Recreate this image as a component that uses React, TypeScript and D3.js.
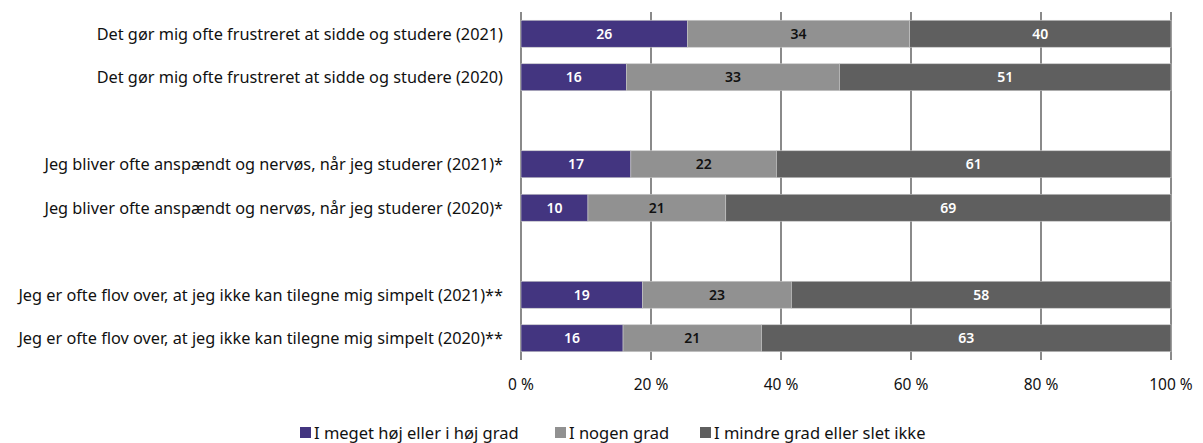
import React from "react";
import * as d3 from "d3";

const categories = [
  "Det gør mig ofte frustreret at sidde og studere (2021)",
  "Det gør mig ofte frustreret at sidde og studere (2020)",
  "Jeg bliver ofte anspændt og nervøs, når jeg studerer (2021)*",
  "Jeg bliver ofte anspændt og nervøs, når jeg studerer (2020)*",
  "Jeg er ofte flov over, at jeg ikke kan tilegne mig simpelt (2021)**",
  "Jeg er ofte flov over, at jeg ikke kan tilegne mig simpelt (2020)**",
];
// slot layout: bars with an empty slot between pairs
const slots = ["0", "1", "gapA", "2", "3", "gapB", "4", "5"];

const seriesNames = ["I meget høj eller i høj grad", "I nogen grad", "I mindre grad eller slet ikke"];
const highValues = [25.6, 16.2, 16.9, 10.3, 18.7, 15.7];
const someValues = [34.2, 32.8, 22.4, 21.2, 22.9, 21.3];
const lowValues = [40.2, 51.0, 60.7, 68.5, 58.4, 63.0];
const ticks = [0, 20, 40, 60, 80, 100];
const tickLabels = ["0 %", "20 %", "40 %", "60 %", "80 %", "100 %"];

const colors = ["#433580", "#919191", "#5f5f5f"];
const labelColors = ["#ffffff", "#111111", "#ffffff"];
const FONT = "'Noto Sans', 'Source Sans Pro', Lato, sans-serif";

export default function App() {
  const W = 1203;
  const H = 443;
  const x = d3.scaleLinear().domain([0, 100]).range([521, 1171]);
  const y = d3.scaleBand().domain(slots).range([12, 360]).paddingInner(0.38).paddingOuter(0.19);

  const data = categories.map((c, i) => ({ key: String(i), label: c, vals: [highValues[i], someValues[i], lowValues[i]] }));
  const stack = d3.stack<any>().keys(["0", "1", "2"]).value((d: any, k: string) => d.vals[+k]);
  const series = stack(data as any);

  const legendItems = [
    { x: 300, name: seriesNames[0] },
    { x: 555, name: seriesNames[1] },
    { x: 700, name: seriesNames[2] },
  ];

  return (
    <svg width={W} height={H} style={{ position: "absolute", left: 0, top: 0, background: "#fff" }} fontFamily={FONT}>
      {ticks.map((t) => (
        <line key={t} x1={x(t)} x2={x(t)} y1={12} y2={360} stroke="#8a8a8a" strokeWidth={2} />
      ))}
      {series.map((s, si) => (
        <g key={si}>
          {s.map((d: any, i: number) => {
            const row = data[i];
            const x0 = x(d[0]);
            const x1 = x(d[1]);
            const yy = y(row.key)!;
            const bh = y.bandwidth();
            return (
              <g key={i}>
                <rect x={x0} y={yy} width={x1 - x0} height={bh} fill={colors[si]} stroke="#c8c8c8" strokeWidth={0.6} />
                <text
                  x={(x0 + x1) / 2}
                  y={yy + bh / 2}
                  dy="0.36em"
                  textAnchor="middle"
                  fontSize={14}
                  fontWeight={600}
                  fill={labelColors[si]}
                >
                  {Math.round(row.vals[si])}
                </text>
              </g>
            );
          })}
        </g>
      ))}
      {data.map((row) => (
        <text
          key={row.key}
          x={503}
          y={y(row.key)! + y.bandwidth() / 2}
          dy="0.36em"
          textAnchor="end"
          fontSize={16.3}
          fill="#111"
        >
          {row.label}
        </text>
      ))}
      {ticks.map((t, i) => (
        <text key={t} x={x(t)} y={384} dy="0.36em" textAnchor="middle" fontSize={15.5} fill="#111">
          {tickLabels[i]}
        </text>
      ))}
      {legendItems.map((l, i) => (
        <g key={i}>
          <rect x={l.x} y={427} width={11} height={11} fill={colors[i]} />
          <text x={l.x + 14} y={433} dy="0.36em" fontSize={16.5} fill="#111">
            {l.name}
          </text>
        </g>
      ))}
    </svg>
  );
}
